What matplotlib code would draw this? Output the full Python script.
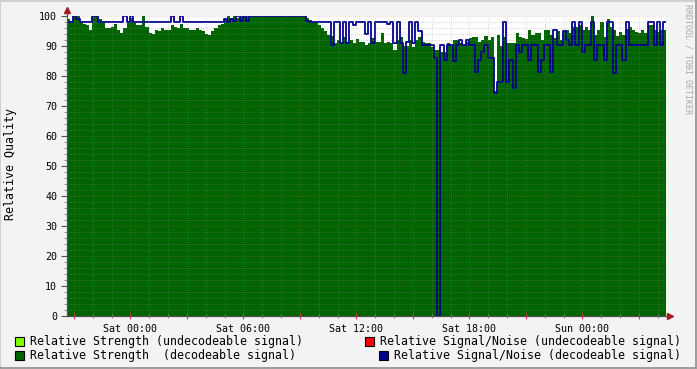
import numpy as np
import matplotlib
matplotlib.use("Agg")
import matplotlib.pyplot as plt
from matplotlib.patches import Rectangle

plt.rcParams['font.family'] = ['DejaVu Sans Mono']

# time axis: hours relative to Sat 00:00, 10 minute steps
t_start = -3.37
t_step = 1 / 6

# Relative Strength (decodeable signal)
strength = [
    99, 98.5, 100, 100, 98.5, 97.5, 97, 95.5, 100, 100,
    99, 98, 96, 96, 96.5, 97.5, 95.5, 94.5, 96, 98,
    99.5, 98, 97, 97, 100, 96.5, 94.5, 94, 95.5, 95,
    96, 95.5, 95.5, 97, 96.5, 96, 97.5, 96, 96, 95.5,
    95.5, 96, 95.5, 95, 94, 93.7, 95, 96, 97, 97.5,
    99, 100, 99.5, 100, 99.5, 100, 100, 100, 100, 100,
    100, 100, 100, 100, 100, 100, 100, 100, 100, 100,
    100, 100, 100, 100, 100, 100, 99.2, 98.7, 98, 98,
    97, 96, 95, 93.7, 93.5, 91, 92, 91, 93, 91.5,
    92, 91, 92.5, 91.5, 91.4, 90.5, 91, 92.6, 91.5, 91.4,
    94.2, 91, 91.4, 91, 88.7, 92, 93, 90, 90, 92,
    89.8, 92, 93, 91.4, 91, 91, 89.8, 88.7, 88.7, 88,
    88, 90.9, 90, 92, 92, 90.9, 90.5, 91.5, 92.6, 93,
    93, 91.5, 92, 93.3, 92, 93, 75, 93.7, 90, 93,
    91, 91, 91, 94.2, 93, 92.6, 92.5, 95.3, 93.7, 94.4,
    94.4, 92, 95.3, 95.3, 93.7, 92.6, 95, 92, 95.3, 95.3,
    94.5, 96.4, 96.4, 97, 95.3, 96.4, 95.3, 100, 93.7, 95.3,
    98, 93, 99, 96.4, 95.3, 93.5, 94.8, 93.7, 95.8, 96.4,
    95.3, 94.8, 94.2, 95.3, 94.2, 97, 97, 95.3, 94.8, 95.3,
    95.3,
]

# Relative Signal/Noise (decodeable signal)
snr = [
    98, 98, 100, 99, 98, 98, 98, 98, 100, 100,
    98, 98, 98, 98, 98, 98, 98, 98, 100, 98,
    100, 98, 98, 98, 98, 98, 98, 98, 98, 98,
    98, 98, 98, 100, 98, 98, 100, 98, 98, 98,
    98, 98, 98, 98, 98, 98, 98, 98, 98, 98,
    99, 98, 99, 98.5, 100, 98.5, 100, 98.5, 100, 100,
    100, 100, 100, 100, 100, 100, 100, 100, 100, 100,
    100, 100, 100, 100, 100, 100, 98.5, 98, 98, 98,
    98, 98, 98, 98, 90.3, 98, 98, 91, 98, 91,
    98, 97, 98, 98, 98, 94, 98, 91, 98, 98,
    98, 98, 97.5, 98, 91, 98, 91, 81, 91.5, 98,
    91, 98, 95, 90.3, 90.3, 90.3, 90.3, 86, 0, 90.3,
    85.3, 90.3, 90.3, 85, 90.3, 92, 90.3, 92, 90.3, 90.3,
    81.4, 85.3, 88, 90.3, 86, 86, 74.2, 78, 78, 98,
    78, 85.3, 76, 90.3, 88, 90.3, 90.3, 85.3, 90.3, 90.3,
    81.4, 85.3, 90.3, 90.3, 81.4, 95.3, 90.3, 90.3, 95, 92,
    90.3, 98, 90.3, 98, 88, 90.3, 90.3, 98, 85.3, 90.3,
    90.3, 85.3, 98, 98, 81, 90.3, 90.3, 85.3, 98, 90.3,
    90.3, 90.3, 90.3, 90.3, 90.3, 98, 98, 90.3, 98, 90.3,
    98,
]

tick_hours = [0, 6, 12, 18, 24]
tick_labels = ['Sat 00:00', 'Sat 06:00', 'Sat 12:00', 'Sat 18:00', 'Sun 00:00']

legend_items = [
    ('#80FF00', 'Relative Strength (undecodeable signal)'),
    ('#006400', 'Relative Strength  (decodeable signal)'),
    ('#FF0000', 'Relative Signal/Noise (undecodeable signal)'),
    ('#000090', 'Relative Signal/Noise (decodeable signal)'),
]

W, H = 697, 369
fig = plt.figure(figsize=(W / 100, H / 100), dpi=100, facecolor='#F3F3F3')
ax = fig.add_axes([67 / W, 1 - 316 / H, 599.4 / W, 300 / H])
ax.set_facecolor('white')

n = len(strength)
t = t_start + np.arange(n + 1) * t_step
s_ext = strength + [strength[-1]]
q_ext = snr + [snr[-1]]

ax.fill_between(t, 0, s_ext, step='post', color='#006400', lw=0, zorder=1)
ax.step(t, q_ext, where='post', color='#000090', lw=1.3, zorder=2)

ax.set_xlim(t[0], t[-1])
ax.set_ylim(0, 100)

for sp in ax.spines.values():
    sp.set_visible(False)

# grid
ax.set_axisbelow(False)
ax.set_yticks(np.arange(0, 101, 10))
ax.set_yticks(np.arange(0, 101, 2), minor=True)
maj_x = np.arange(-3, 28, 3)
ax.set_xticks(maj_x)
ax.set_xticklabels([tick_labels[tick_hours.index(h)] if h in tick_hours else '' for h in maj_x])
ax.set_xticks(np.arange(-3, 29, 1), minor=True)

dot = (0, (1, 2))
ax.grid(True, which='minor', color='#8C8C8C', alpha=0.3, ls=dot, lw=0.72, antialiased=False)
ax.grid(True, which='major', color='#FF5050', alpha=0.22, ls=dot, lw=0.72, antialiased=False)

ax.tick_params(axis='both', which='both', labelsize=7.2, labelcolor='black')
ax.tick_params(axis='y', which='major', direction='out', length=4, width=0.8, color='#505050', pad=3)
ax.tick_params(axis='y', which='minor', direction='out', length=2, width=0.7, color='#909090')
ax.tick_params(axis='x', which='major', direction='inout', length=5, width=0.8, color='#D04040', pad=3)
ax.tick_params(axis='x', which='minor', direction='inout', length=3, width=0.7, color='#909090')

# axis lines with arrows
ax.plot([t[0], t[0]], [0, 102.8], color='#505050', lw=0.9, clip_on=False, zorder=3)
ax.plot([t[0], t[-1] + 0.3], [0, 0], color='#505050', lw=0.9, clip_on=False, zorder=3)
ax.plot([t[0]], [101.9], marker='^', color='#A02020', ms=4, clip_on=False, zorder=4)
ax.plot([t[-1] + 0.2], [0], marker='>', color='#A02020', ms=4, clip_on=False, zorder=4)

fig.text(11 / W, 1 - 164 / H, 'Relative Quality', rotation=90, ha='center', va='center', fontsize=8.4)
fig.text(688 / W, 1 - 4 / H, 'RRDTOOL / TOBI OETIKER', rotation=270, ha='center', va='top',
         fontsize=6, color='#A8A8A8')

# legend
legend_pos = [(15, 341, 30), (15, 355, 30), (365, 341, 380), (379, 355, 394)]
for (col, label), (bx, by, tx) in zip(legend_items, legend_pos):
    fig.patches.append(Rectangle((bx / W, 1 - (by + 4.5) / H), 9 / W, 9 / H, transform=fig.transFigure,
                                 facecolor=col, edgecolor='black', lw=0.8))
    fig.text(tx / W, 1 - by / H, label, ha='left', va='center', fontsize=8.4)

# frame
fig.patches.append(Rectangle((0, 1 - 2 / H), 1, 2 / H, transform=fig.transFigure, color='#CFCFCF', lw=0))
fig.patches.append(Rectangle((0, 0), 1 / W, 1, transform=fig.transFigure, color='#CFCFCF', lw=0))
fig.patches.append(Rectangle((1 - 2 / W, 0), 2 / W, 1, transform=fig.transFigure, color='#9E9E9E', lw=0))
fig.patches.append(Rectangle((0, 0), 1, 2 / H, transform=fig.transFigure, color='#9E9E9E', lw=0))

fig.savefig('out.png', dpi=100, facecolor=fig.get_facecolor())
